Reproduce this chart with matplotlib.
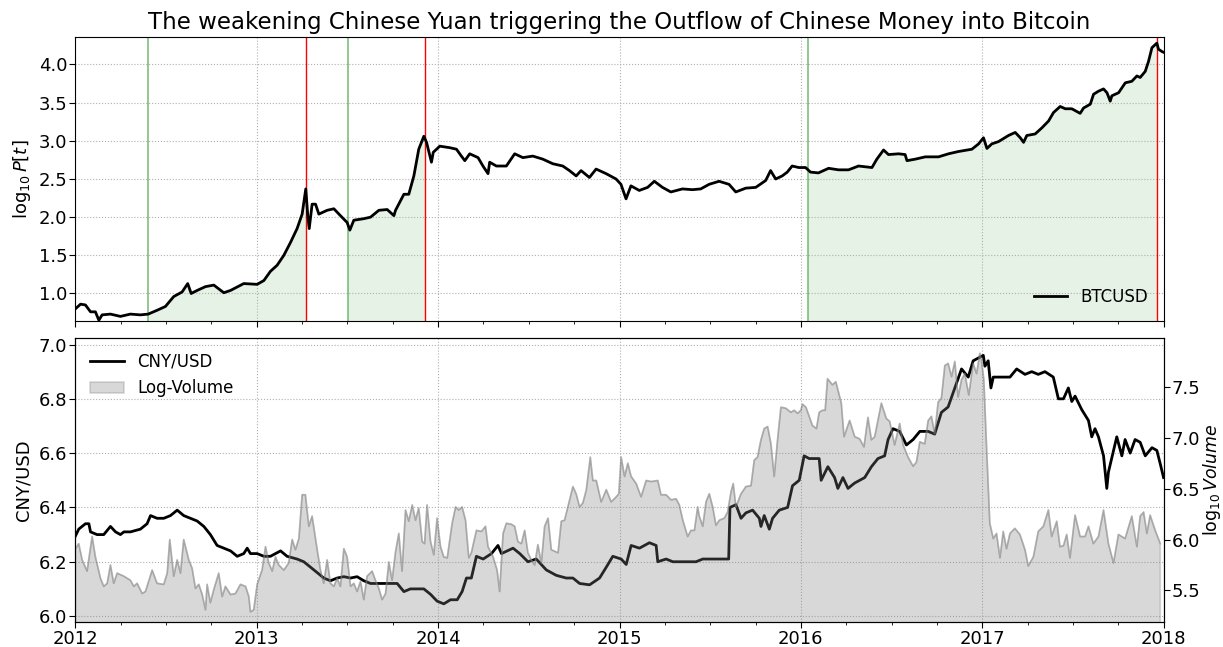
import numpy as np
import matplotlib
matplotlib.use("Agg")
import matplotlib.pyplot as plt
from matplotlib.patches import Patch
from matplotlib.lines import Line2D

# ---------------- data (decimal years) ----------------
btc_t = [2012.000, 2012.028, 2012.055, 2012.083, 2012.110, 2012.129, 2012.147, 2012.193, 2012.248, 2012.303,
         2012.358, 2012.401, 2012.450, 2012.496, 2012.542, 2012.588, 2012.619, 2012.638, 2012.671, 2012.717,
         2012.763, 2012.818, 2012.855, 2012.928, 2013.002, 2013.039, 2013.075, 2013.112, 2013.149, 2013.186,
         2013.222, 2013.250, 2013.270, 2013.281, 2013.289, 2013.305, 2013.324, 2013.342, 2013.388, 2013.425,
         2013.461, 2013.498, 2013.513, 2013.535, 2013.590, 2013.627, 2013.673, 2013.719, 2013.756, 2013.765,
         2013.811, 2013.838, 2013.866, 2013.893, 2013.921, 2013.936, 2013.963, 2013.973, 2014.009, 2014.064,
         2014.101, 2014.128, 2014.147, 2014.174, 2014.220, 2014.247, 2014.275, 2014.284, 2014.321, 2014.376,
         2014.422, 2014.467, 2014.522, 2014.577, 2014.632, 2014.687, 2014.724, 2014.761, 2014.788, 2014.834,
         2014.871, 2014.926, 2014.981, 2015.008, 2015.036, 2015.063, 2015.109, 2015.155, 2015.192, 2015.237,
         2015.283, 2015.347, 2015.402, 2015.448, 2015.494, 2015.549, 2015.604, 2015.641, 2015.696, 2015.751,
         2015.806, 2015.833, 2015.861, 2015.897, 2015.925, 2015.952, 2015.989, 2016.026, 2016.053, 2016.097,
         2016.153, 2016.208, 2016.263, 2016.318, 2016.392, 2016.419, 2016.456, 2016.483, 2016.539, 2016.575,
         2016.585, 2016.631, 2016.686, 2016.759, 2016.814, 2016.869, 2016.943, 2016.980, 2017.007, 2017.026,
         2017.053, 2017.090, 2017.145, 2017.182, 2017.210, 2017.228, 2017.246, 2017.292, 2017.329, 2017.366,
         2017.393, 2017.430, 2017.458, 2017.494, 2017.540, 2017.559, 2017.596, 2017.614, 2017.641, 2017.669,
         2017.688, 2017.706, 2017.715, 2017.752, 2017.789, 2017.825, 2017.853, 2017.871, 2017.899, 2017.917,
         2017.936, 2017.954, 2017.963, 2017.972, 2017.991, 2018.000]
btc_log = [0.80, 0.86, 0.85, 0.76, 0.76, 0.65, 0.72, 0.73, 0.70, 0.73,
           0.72, 0.73, 0.78, 0.83, 0.96, 1.02, 1.13, 1.00, 1.04, 1.09,
           1.11, 1.01, 1.04, 1.13, 1.12, 1.17, 1.29, 1.37, 1.50, 1.67,
           1.85, 2.04, 2.37, 2.02, 1.85, 2.17, 2.17, 2.04, 2.09, 2.11,
           2.02, 1.93, 1.83, 1.96, 1.98, 2.00, 2.09, 2.10, 2.02, 2.09,
           2.30, 2.30, 2.54, 2.89, 3.06, 2.98, 2.72, 2.85, 2.93, 2.91,
           2.89, 2.80, 2.74, 2.83, 2.78, 2.67, 2.57, 2.72, 2.67, 2.67,
           2.83, 2.78, 2.80, 2.76, 2.70, 2.67, 2.61, 2.54, 2.61, 2.52,
           2.63, 2.57, 2.50, 2.43, 2.24, 2.41, 2.35, 2.39, 2.47, 2.39,
           2.33, 2.37, 2.36, 2.37, 2.43, 2.47, 2.43, 2.33, 2.38, 2.39,
           2.48, 2.61, 2.50, 2.54, 2.59, 2.67, 2.65, 2.65, 2.59, 2.58,
           2.64, 2.62, 2.62, 2.67, 2.65, 2.76, 2.88, 2.82, 2.83, 2.82,
           2.74, 2.76, 2.79, 2.79, 2.83, 2.86, 2.89, 2.96, 3.04, 2.90,
           2.96, 2.99, 3.07, 3.11, 3.04, 2.98, 3.07, 3.09, 3.17, 3.26,
           3.37, 3.45, 3.42, 3.42, 3.36, 3.43, 3.48, 3.61, 3.65, 3.68,
           3.63, 3.52, 3.59, 3.63, 3.76, 3.78, 3.85, 3.83, 3.91, 4.04,
           4.22, 4.26, 4.28, 4.20, 4.17, 4.16]

cny_t = [2012.000, 2012.018, 2012.055, 2012.074, 2012.083, 2012.119, 2012.156, 2012.193, 2012.221, 2012.248,
         2012.267, 2012.303, 2012.358, 2012.395, 2012.414, 2012.450, 2012.487, 2012.524, 2012.561, 2012.597,
         2012.634, 2012.671, 2012.708, 2012.744, 2012.781, 2012.818, 2012.855, 2012.892, 2012.928, 2012.947,
         2012.965, 2013.002, 2013.039, 2013.075, 2013.131, 2013.167, 2013.222, 2013.259, 2013.296, 2013.333,
         2013.369, 2013.406, 2013.443, 2013.480, 2013.517, 2013.553, 2013.590, 2013.627, 2013.700, 2013.774,
         2013.811, 2013.847, 2013.921, 2013.958, 2013.994, 2014.031, 2014.068, 2014.105, 2014.132, 2014.156,
         2014.183, 2014.211, 2014.248, 2014.294, 2014.330, 2014.349, 2014.413, 2014.450, 2014.495, 2014.541,
         2014.596, 2014.651, 2014.706, 2014.743, 2014.780, 2014.835, 2014.890, 2014.927, 2014.963, 2015.009,
         2015.037, 2015.064, 2015.110, 2015.165, 2015.202, 2015.211, 2015.257, 2015.294, 2015.367, 2015.422,
         2015.459, 2015.532, 2015.602, 2015.609, 2015.642, 2015.670, 2015.697, 2015.734, 2015.771, 2015.780,
         2015.798, 2015.826, 2015.844, 2015.881, 2015.927, 2015.954, 2015.991, 2016.018, 2016.046, 2016.101,
         2016.112, 2016.149, 2016.186, 2016.204, 2016.232, 2016.260, 2016.278, 2016.297, 2016.324, 2016.352,
         2016.389, 2016.425, 2016.462, 2016.481, 2016.508, 2016.545, 2016.582, 2016.619, 2016.656, 2016.702,
         2016.738, 2016.775, 2016.812, 2016.849, 2016.886, 2016.923, 2016.950, 2016.978, 2017.006, 2017.015,
         2017.033, 2017.048, 2017.061, 2017.107, 2017.153, 2017.190, 2017.236, 2017.273, 2017.309, 2017.346,
         2017.392, 2017.420, 2017.448, 2017.475, 2017.494, 2017.512, 2017.549, 2017.586, 2017.604, 2017.622,
         2017.641, 2017.669, 2017.687, 2017.696, 2017.724, 2017.742, 2017.770, 2017.788, 2017.816, 2017.843,
         2017.871, 2017.899, 2017.936, 2017.963, 2017.982, 2018.000]
cny_usd = [6.295, 6.32, 6.34, 6.34, 6.31, 6.30, 6.30, 6.33, 6.31, 6.30,
           6.31, 6.31, 6.32, 6.34, 6.37, 6.36, 6.36, 6.37, 6.39, 6.37,
           6.36, 6.35, 6.33, 6.30, 6.26, 6.25, 6.24, 6.22, 6.23, 6.25,
           6.23, 6.23, 6.22, 6.22, 6.24, 6.22, 6.21, 6.20, 6.18, 6.16,
           6.14, 6.13, 6.14, 6.145, 6.14, 6.145, 6.13, 6.12, 6.12, 6.12,
           6.09, 6.10, 6.10, 6.08, 6.055, 6.045, 6.06, 6.06, 6.09, 6.14,
           6.14, 6.22, 6.21, 6.23, 6.26, 6.23, 6.25, 6.23, 6.20, 6.21,
           6.17, 6.15, 6.14, 6.14, 6.12, 6.115, 6.14, 6.18, 6.22, 6.21,
           6.19, 6.26, 6.25, 6.27, 6.26, 6.20, 6.21, 6.20, 6.20, 6.20,
           6.21, 6.21, 6.21, 6.40, 6.41, 6.36, 6.38, 6.39, 6.36, 6.33,
           6.37, 6.32, 6.36, 6.39, 6.40, 6.48, 6.50, 6.59, 6.58, 6.58,
           6.50, 6.55, 6.51, 6.47, 6.51, 6.47, 6.48, 6.49, 6.50, 6.51,
           6.55, 6.58, 6.59, 6.65, 6.69, 6.68, 6.63, 6.65, 6.68, 6.68,
           6.67, 6.75, 6.77, 6.84, 6.91, 6.88, 6.94, 6.95, 6.96, 6.92,
           6.94, 6.84, 6.88, 6.88, 6.88, 6.91, 6.89, 6.90, 6.89, 6.90,
           6.88, 6.80, 6.80, 6.84, 6.79, 6.81, 6.76, 6.72, 6.66, 6.69,
           6.66, 6.59, 6.47, 6.53, 6.61, 6.66, 6.59, 6.65, 6.60, 6.65,
           6.64, 6.59, 6.62, 6.61, 6.56, 6.51]

vol_t = [2012.000, 2012.018, 2012.037, 2012.064, 2012.092, 2012.110, 2012.138, 2012.156, 2012.175, 2012.193,
         2012.211, 2012.230, 2012.267, 2012.303, 2012.322, 2012.340, 2012.368, 2012.386, 2012.423, 2012.450,
         2012.487, 2012.506, 2012.520, 2012.542, 2012.561, 2012.579, 2012.597, 2012.625, 2012.643, 2012.662,
         2012.680, 2012.699, 2012.717, 2012.726, 2012.744, 2012.763, 2012.790, 2012.809, 2012.827, 2012.855,
         2012.882, 2012.910, 2012.938, 2012.956, 2012.965, 2012.983, 2013.002, 2013.029, 2013.048, 2013.066,
         2013.085, 2013.103, 2013.121, 2013.149, 2013.176, 2013.195, 2013.213, 2013.232, 2013.250, 2013.268,
         2013.287, 2013.305, 2013.333, 2013.351, 2013.369, 2013.388, 2013.406, 2013.425, 2013.443, 2013.461,
         2013.480, 2013.498, 2013.517, 2013.535, 2013.553, 2013.572, 2013.590, 2013.608, 2013.636, 2013.654,
         2013.673, 2013.691, 2013.710, 2013.728, 2013.746, 2013.765, 2013.783, 2013.801, 2013.820, 2013.838,
         2013.857, 2013.875, 2013.893, 2013.912, 2013.925, 2013.939, 2013.958, 2013.976, 2013.994, 2014.013,
         2014.031, 2014.050, 2014.077, 2014.096, 2014.114, 2014.132, 2014.151, 2014.169, 2014.183, 2014.211,
         2014.239, 2014.261, 2014.275, 2014.303, 2014.325, 2014.339, 2014.358, 2014.376, 2014.404, 2014.422,
         2014.440, 2014.459, 2014.477, 2014.495, 2014.514, 2014.532, 2014.550, 2014.569, 2014.587, 2014.606,
         2014.624, 2014.661, 2014.679, 2014.697, 2014.725, 2014.743, 2014.761, 2014.780, 2014.798, 2014.817,
         2014.839, 2014.853, 2014.872, 2014.899, 2014.927, 2014.954, 2014.982, 2014.996, 2015.009, 2015.028,
         2015.046, 2015.064, 2015.092, 2015.119, 2015.147, 2015.174, 2015.211, 2015.229, 2015.257, 2015.284,
         2015.312, 2015.330, 2015.349, 2015.376, 2015.394, 2015.413, 2015.431, 2015.440, 2015.459, 2015.477,
         2015.495, 2015.514, 2015.532, 2015.550, 2015.578, 2015.596, 2015.615, 2015.627, 2015.642, 2015.670,
         2015.697, 2015.725, 2015.743, 2015.761, 2015.780, 2015.798, 2015.817, 2015.835, 2015.853, 2015.872,
         2015.890, 2015.917, 2015.945, 2015.963, 2015.982, 2016.000, 2016.009, 2016.028, 2016.046, 2016.064,
         2016.086, 2016.101, 2016.119, 2016.134, 2016.147, 2016.174, 2016.193, 2016.223, 2016.238, 2016.269,
         2016.297, 2016.324, 2016.348, 2016.370, 2016.389, 2016.407, 2016.444, 2016.471, 2016.490, 2016.517,
         2016.545, 2016.564, 2016.591, 2016.619, 2016.637, 2016.656, 2016.683, 2016.702, 2016.720, 2016.738,
         2016.757, 2016.775, 2016.794, 2016.812, 2016.831, 2016.849, 2016.867, 2016.886, 2016.904, 2016.926,
         2016.950, 2016.969, 2016.987, 2016.996, 2017.009, 2017.024, 2017.042, 2017.061, 2017.079, 2017.098,
         2017.116, 2017.134, 2017.153, 2017.180, 2017.208, 2017.236, 2017.254, 2017.282, 2017.309, 2017.337,
         2017.365, 2017.383, 2017.411, 2017.429, 2017.448, 2017.466, 2017.484, 2017.512, 2017.540, 2017.567,
         2017.586, 2017.613, 2017.641, 2017.669, 2017.696, 2017.724, 2017.751, 2017.788, 2017.825, 2017.853,
         2017.871, 2017.890, 2017.908, 2017.926, 2017.954, 2017.982]
log_volume = [5.91, 5.96, 5.80, 5.69, 6.03, 5.83, 5.62, 5.54, 5.57, 5.75,
              5.57, 5.67, 5.64, 5.60, 5.54, 5.57, 5.47, 5.49, 5.70, 5.57,
              5.56, 5.67, 6.00, 5.64, 5.80, 5.67, 6.00, 5.80, 5.72, 5.52,
              5.56, 5.46, 5.31, 5.56, 5.38, 5.51, 5.67, 5.44, 5.54, 5.46,
              5.47, 5.56, 5.54, 5.44, 5.29, 5.31, 5.56, 5.70, 5.93, 5.77,
              5.69, 5.83, 5.75, 5.70, 5.77, 6.00, 5.90, 6.01, 6.44, 6.44,
              6.13, 6.23, 5.90, 5.70, 5.57, 5.80, 5.57, 5.54, 5.62, 5.54,
              5.91, 5.83, 5.54, 5.57, 5.49, 5.59, 5.41, 5.64, 5.69, 5.60,
              5.52, 5.41, 5.47, 5.78, 5.60, 5.88, 6.06, 5.69, 6.29, 6.18,
              6.34, 6.19, 6.31, 5.98, 5.96, 6.34, 5.98, 5.85, 6.21, 5.93,
              5.83, 5.82, 6.16, 6.32, 6.29, 6.32, 6.19, 5.82, 5.87, 6.09,
              6.08, 6.13, 5.93, 5.83, 5.70, 5.49, 6.06, 6.16, 6.15, 6.13,
              5.98, 5.96, 6.09, 5.87, 5.80, 5.75, 5.95, 5.77, 6.13, 6.21,
              5.90, 5.87, 6.18, 6.19, 6.39, 6.52, 6.45, 6.32, 6.36, 6.49,
              6.81, 6.58, 6.58, 6.37, 6.49, 6.37, 6.42, 6.45, 6.81, 6.62,
              6.75, 6.62, 6.55, 6.42, 6.58, 6.57, 6.58, 6.44, 6.44, 6.39,
              6.40, 6.34, 6.19, 6.03, 6.09, 6.09, 6.32, 6.23, 6.13, 6.37,
              6.45, 6.32, 6.14, 6.19, 6.21, 6.27, 6.47, 6.55, 6.32, 6.45,
              6.52, 6.53, 6.78, 6.81, 6.98, 7.09, 7.11, 6.94, 6.62, 6.99,
              7.30, 7.29, 7.25, 7.27, 7.24, 7.27, 7.33, 7.30, 7.21, 7.12,
              7.09, 7.25, 7.27, 7.27, 7.58, 7.52, 7.55, 7.34, 7.01, 7.17,
              7.01, 6.99, 6.91, 7.20, 6.98, 7.01, 7.34, 7.19, 7.16, 6.93,
              7.14, 6.93, 6.81, 6.72, 6.76, 6.96, 6.94, 7.17, 7.21, 7.04,
              7.35, 7.39, 7.71, 7.73, 7.60, 7.75, 7.40, 7.57, 7.63, 7.42,
              7.73, 7.63, 7.83, 7.76, 7.57, 6.91, 6.16, 6.01, 6.06, 5.82,
              6.08, 5.91, 6.06, 6.11, 6.05, 5.90, 5.74, 5.83, 6.08, 6.13,
              6.29, 6.03, 6.18, 5.93, 5.94, 6.05, 5.82, 6.24, 6.03, 6.03,
              6.13, 5.96, 6.03, 6.29, 5.96, 5.77, 6.05, 6.01, 6.23, 5.93,
              6.23, 6.27, 6.06, 6.24, 6.09, 5.96]

# weakening-yuan signal dates: green = start, red = end
green_dates = [2012.401, 2013.502, 2016.039]
red_dates = [2013.270, 2013.925, 2017.963]

year_ticks = [2012, 2013, 2014, 2015, 2016, 2017, 2018]

# ---------------- figure ----------------
plt.rcParams['font.family'] = ['DejaVu Sans']
fig = plt.figure(figsize=(12.23, 6.47), dpi=100)
ax1 = fig.add_axes([0.0617, 0.5039, 0.8897, 0.4389])
ax2 = fig.add_axes([0.0617, 0.0386, 0.8897, 0.4390], sharex=ax1)

btc_t_a = np.array(btc_t)
btc_a = np.array(btc_log)
y1_lo, y1_hi = 0.64, 4.36

# green shaded regions
for g, r in zip(green_dates, red_dates):
    m = (btc_t_a > g) & (btc_t_a < r)
    xs = np.concatenate([[g], btc_t_a[m], [r]])
    ys = np.concatenate([[np.interp(g, btc_t_a, btc_a)], btc_a[m], [np.interp(r, btc_t_a, btc_a)]])
    ax1.fill_between(xs, y1_lo, ys, color='g', alpha=0.1, lw=0)

for g in green_dates:
    ax1.axvline(g, color='g', alpha=0.5, lw=1.2)
for r in red_dates:
    ax1.axvline(r, color='r', lw=1.0)

ax1.plot(btc_t, btc_log, color='k', lw=2, label='BTCUSD')
ax1.set_ylim(y1_lo, y1_hi)
ax1.set_yticks([1.0, 1.5, 2.0, 2.5, 3.0, 3.5, 4.0])
ax1.set_ylabel(r'$\log_{10}P[t]$', fontsize=13)
ax1.set_title('The weakening Chinese Yuan triggering the Outflow of Chinese Money into Bitcoin', fontsize=16.5)
ax1.legend(loc='lower right', frameon=False, fontsize=12)
ax1.grid(True, linestyle=':', color='#b0b0b0', lw=0.8)
plt.setp(ax1.get_xticklabels(), visible=False)

# bottom panel
ax2.plot(cny_t, cny_usd, color='k', lw=2)
ax2.set_ylim(5.978, 7.024)
ax2.set_yticks([6.0, 6.2, 6.4, 6.6, 6.8, 7.0])
ax2.set_ylabel('CNY/USD', fontsize=13)
ax2.grid(True, linestyle=':', color='#b0b0b0', lw=0.8)

ax3 = ax2.twinx()
ax3.fill_between(vol_t, 0, log_volume, color='gray', alpha=0.3, lw=1.2)
ax3.plot(vol_t, log_volume, color='gray', alpha=0.45, lw=1.2)
ax3.set_ylim(5.19, 7.98)
ax3.set_yticks([5.5, 6.0, 6.5, 7.0, 7.5])
ax3.set_ylabel(r'$\log_{10}Volume$', fontsize=12.5, labelpad=0)

handles = [Line2D([], [], color='k', lw=2),
           Patch(facecolor='gray', edgecolor='gray', alpha=0.3, lw=1.2)]
ax3.legend(handles, ['CNY/USD', 'Log-Volume'], loc='upper left', frameon=False, fontsize=12)

ax1.set_xlim(2012, 2018)
ax2.set_xticks(year_ticks)
ax2.set_xticklabels([str(y) for y in year_ticks])
ax2.set_xticks(np.arange(2012, 2018.01, 0.25), minor=True)

for ax in (ax1, ax2, ax3):
    ax.tick_params(axis='both', which='major', labelsize=13, direction='out', length=4, pad=2)
    ax.tick_params(axis='both', which='minor', direction='out', length=2.5)

fig.savefig('out.png', dpi=100)
